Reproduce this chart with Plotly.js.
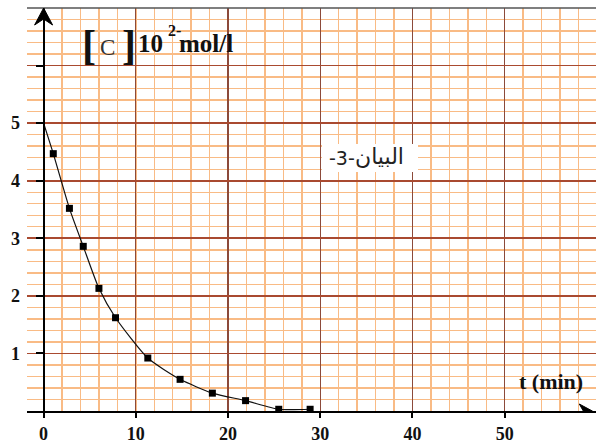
<!DOCTYPE html>
<html>
<head>
<meta charset="utf-8">
<script src="https://cdn.plot.ly/plotly-3.0.1.min.js"></script>
<style>html,body{margin:0;padding:0;background:#fff;}</style>
</head>
<body>
<div id="chart" style="width:596px;height:443px;"></div>
<script>
// Measured points: time (min) and concentration [C] (10^-2 mol/L)
var tData = [1.05, 2.8, 4.3, 6.0, 7.8, 11.3, 14.8, 18.3, 21.9, 25.5, 28.9];
var cData = [4.47, 3.52, 2.86, 2.13, 1.62, 0.92, 0.55, 0.31, 0.18, 0.03, 0.03];
// Drawn curve starts at the initial concentration
var curveT = [0, 1.05, 2.8, 4.3, 6.0, 7.8, 11.3, 14.8, 18.3, 21.9, 25.5, 28.9];
var curveC = [5, 4.47, 3.52, 2.86, 2.13, 1.62, 0.92, 0.55, 0.31, 0.18, 0.03, 0.03];
var xTickVals = [0, 10, 20, 30, 40, 50];
var yTickVals = [1, 2, 3, 4, 5, 6];
var yTickText = ['1', '2', '3', '4', '5', ''];

var L = 27, T = 8, W = 569, H = 403;
function px(x) { return (x - L) / W; }
function py(y) { return (T + H - y) / H; }

var SERIF = '"Liberation Serif", "Times New Roman", Times, "DejaVu Serif", serif';
var serifBold = {family: SERIF, size: 18, color: '#111', weight: 'bold'};
var minorCol = '#f9bb85', majorV = '#8c4a3a', majorH = '#a94a30';

var traces = [
  {x: curveT, y: curveC, mode: 'lines', line: {color: '#111', width: 1.2, shape: 'spline', smoothing: 0.6}, hoverinfo: 'skip'},
  {x: tData, y: cData, mode: 'markers', marker: {symbol: 'square', size: 7, color: '#000'}}
];

function ann(text, x, y, size, bold, color, family) {
  return {xref: 'paper', yref: 'paper', x: px(x), y: py(y), xanchor: 'center', yanchor: 'middle',
    showarrow: false, text: text,
    font: {family: family || SERIF, size: size, color: color || '#111', weight: bold ? 'bold' : 'normal'}};
}
var SANS = '"DejaVu Sans", "Noto Sans", sans-serif';

var layout = {
  width: 596, height: 443,
  margin: {l: L, r: 0, t: T, b: 32},
  paper_bgcolor: '#fff', plot_bgcolor: '#fff',
  showlegend: false,
  xaxis: {
    range: [-1.8, 59.9], tickmode: 'array', tickvals: xTickVals,
    showgrid: true, gridcolor: majorV, gridwidth: 1.2,
    minor: {dtick: 2, tick0: 0, showgrid: true, gridcolor: minorCol, gridwidth: 1.4, ticklen: 0},
    showline: true, linecolor: '#000', linewidth: 2,
    ticks: 'outside', ticklen: 5, tickwidth: 2, tickcolor: '#000',
    tickfont: serifBold, zeroline: false, fixedrange: true
  },
  yaxis: {
    range: [0, 7], tickmode: 'array', tickvals: yTickVals, ticktext: yTickText,
    showgrid: true, gridcolor: majorH, gridwidth: 1.8,
    minor: {dtick: 0.2, tick0: 0, showgrid: true, gridcolor: minorCol, gridwidth: 1.4, ticklen: 0},
    anchor: 'free', position: 1.8 / 61.7,
    showline: true, linecolor: '#000', linewidth: 2,
    ticks: 'outside', ticklen: 7, tickwidth: 2, tickcolor: '#000',
    ticklabelstandoff: 12,
    tickfont: serifBold, zeroline: false, fixedrange: true
  },
  shapes: [
    {type: 'line', xref: 'paper', yref: 'paper', x0: 0, x1: 1, y0: 1, y1: 1, line: {color: '#555', width: 1.5}},
    {type: 'rect', xref: 'paper', yref: 'paper', x0: px(322), x1: px(418), y0: py(172), y1: py(144),
     fillcolor: '#fff', line: {width: 0}},
    {type: 'path', xref: 'x', yref: 'y', xsizemode: 'pixel', ysizemode: 'pixel', xanchor: 0, yanchor: 7,
     path: 'M0,0 L-9,-17 L0,-11 L9,-17 Z', fillcolor: '#000', line: {color: '#000', width: 1}},
    {type: 'path', xref: 'x', yref: 'y', xsizemode: 'pixel', ysizemode: 'pixel', xanchor: 59.5, yanchor: 0,
     path: 'M0,0 L-13,7 L-9,0 L-13,-7 Z', fillcolor: '#000', line: {color: '#000', width: 1}}
  ],
  annotations: [
    ann('[', 89, 45, 42, true),
    ann('C', 107, 47, 23, false, '#333'),
    ann(']', 129, 45, 42, true),
    ann('10', 150, 44, 25, true),
    ann('2-', 174, 31, 16, true),
    ann('mol/l', 206, 43, 25, true),
    ann('t (min)', 551, 381, 22, true),
    ann('-3-', 342, 158, 19, false, '#222', SANS),
    ann('البيان', 379, 156, 22, false, '#222', SANS)
  ]
};

Plotly.newPlot('chart', traces, layout, {staticPlot: true, displayModeBar: false});
</script>
</body>
</html>
